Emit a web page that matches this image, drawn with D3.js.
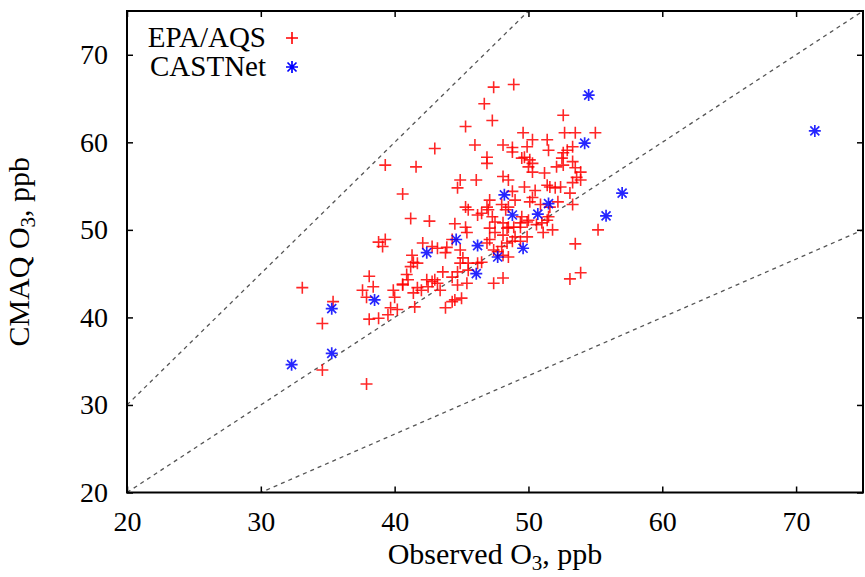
<!DOCTYPE html>
<html lang="en">
<head>
<meta charset="UTF-8">
<title>CMAQ vs Observed O3</title>
<script src="https://d3js.org/d3.v7.min.js"></script>
<style>
  body { margin: 0; background: #fff; }
  svg text { font-family: "Liberation Serif", "Times New Roman", serif; fill: #000; }
</style>
</head>
<body>
<div id="chart"></div>
<script>
// [observed, CMAQ] ozone in ppb
const epaAqs = [
  [47.4,66.3],[48.9,66.6],[46.7,64.4],[47.3,62.5],[45.3,61.8],[52.6,63.1],[49.6,61.1],[50.3,60.3],
  [51.4,60.3],[52.7,61.1],[53.5,61.1],[55.0,61.1],[43.0,59.3],[46.0,59.7],[48.1,59.7],[48.8,59.4],
  [48.8,58.9],[49.9,59.5],[49.7,58.3],[51.5,59.1],[52.6,58.8],[52.9,59.1],[53.3,59.5],[39.3,57.4],
  [41.6,57.2],[46.9,58.3],[46.9,57.6],[49.5,58.2],[50.1,58.0],[50.3,57.6],[50.0,57.2],[52.5,58.2],
  [52.6,57.4],[53.3,57.8],[53.5,57.1],[53.9,56.6],[52.1,57.2],[50.3,56.6],[51.2,56.5],[44.9,55.7],
  [44.7,54.8],[46.1,55.7],[48.1,56.1],[48.5,55.7],[49.7,54.9],[50.5,54.5],[51.4,55.1],[51.6,54.9],
  [52.0,54.8],[52.4,54.9],[53.3,55.4],[53.6,56.0],[53.9,55.7],[53.1,54.2],[40.6,54.1],[48.8,54.4],
  [49.0,53.4],[50.3,53.7],[50.1,53.2],[47.1,53.4],[46.9,52.6],[45.3,52.6],[45.5,52.3],[46.2,51.7],
  [46.5,51.9],[47.0,52.3],[47.3,51.5],[47.1,50.2],[47.5,50.9],[48.0,52.9],[48.5,52.6],[48.3,52.3],
  [49.5,51.5],[49.9,50.9],[49.4,50.3],[48.9,50.3],[48.1,50.8],[48.4,50.2],[51.0,50.8],[51.1,49.7],
  [51.8,50.0],[51.5,51.5],[50.9,52.9],[52.2,53.2],[51.6,52.6],[53.3,52.9],[55.2,50.0],[53.5,48.4],
  [53.1,44.4],[53.9,45.1],[41.2,51.3],[42.6,51.0],[44.5,50.7],[45.3,50.3],[45.4,49.7],[47.5,49.7],
  [48.1,49.4],[48.5,50.3],[49.0,49.2],[39.3,48.9],[39.1,48.1],[42.1,48.5],[42.8,48.1],[43.2,47.9],
  [43.8,47.4],[44.9,47.7],[45.1,46.8],[44.9,46.2],[45.5,46.2],[46.9,48.5],[47.1,48.9],[47.4,47.7],
  [48.0,48.1],[48.4,48.5],[48.8,48.7],[49.4,48.7],[49.9,49.2],[49.4,50.8],[50.0,51.1],[50.6,50.6],
  [51.4,51.1],[41.3,47.1],[41.4,46.3],[41.7,46.2],[40.9,44.9],[41.0,44.3],[40.6,43.7],[39.9,43.1],
  [40.0,42.3],[39.7,41.1],[40.2,40.9],[39.5,40.3],[42.4,44.3],[42.8,44.1],[43.0,44.3],[43.2,43.9],
  [43.4,43.1],[42.5,43.5],[42.0,43.1],[41.7,43.4],[41.4,42.8],[44.3,44.6],[44.7,43.7],[45.4,43.9],
  [44.7,45.2],[43.6,45.2],[44.5,42.0],[45.0,42.2],[44.3,41.8],[43.8,41.1],[47.4,43.9],[48.1,44.5],
  [46.2,46.2],[46.5,46.3],[45.5,45.4],[47.7,47.5],[48.1,47.1],[48.5,46.9],[44.3,48.9],[43.9,48.0],
  [33.1,43.4],[35.4,41.8],[34.6,39.3],[34.6,34.0],[37.9,32.4],[38.8,48.6],[41.2,45.8],[38.1,44.7],
  [37.6,43.1],[38.4,43.5],[37.9,42.3],[40.6,43.8],[38.1,39.8],[38.8,39.9],[41.5,41.2]
];

const castnet = [
  [32.3,34.6],[35.3,35.9],[35.3,41.0],[38.5,42.0],[42.4,47.4],[44.6,48.9],[46.1,45.0],[46.2,48.2],
  [47.7,46.9],[48.2,54.0],[48.8,51.7],[49.6,47.9],[50.7,51.8],[51.5,53.0],[54.2,59.9],[54.5,65.4],
  [55.8,51.6],[57.0,54.2],[71.4,61.3]
];

const xTicks = [20, 30, 40, 50, 60, 70];
const yTicks = [20, 30, 40, 50, 60, 70];
// reference lines y = k * x  (1.5:1, 1:1, 1:1.5)
const ratioLines = [1.5, 1, 1 / 1.5];
const legendNames = ["EPA/AQS", "CASTNet"];

const W = 865, H = 577;
const margin = { top: 11, right: 2, bottom: 84.5, left: 127 };
const width = W - margin.left - margin.right;
const height = H - margin.top - margin.bottom;
const serif = '"Liberation Serif", "Times New Roman", serif';

const svg = d3.select("#chart").append("svg")
  .attr("width", W).attr("height", H)
  .style("font-family", serif);

const g = svg.append("g")
  .attr("transform", `translate(${margin.left},${margin.top})`);

const x = d3.scaleLinear().domain([20, 75]).range([0, width]);
const y = d3.scaleLinear().domain([20, 75]).range([height, 0]);

g.append("clipPath").attr("id", "clip")
  .append("rect").attr("width", width).attr("height", height);

// dashed ratio lines
const line = d3.line().x(d => x(d[0])).y(d => y(d[1]));
g.append("g").attr("clip-path", "url(#clip)")
  .selectAll("path")
  .data(ratioLines)
  .join("path")
  .attr("d", k => line([[20, 20 * k], [75, 75 * k]]))
  .attr("fill", "none")
  .attr("stroke", "#555")
  .attr("stroke-width", 1.3)
  .attr("stroke-dasharray", "4,4");

// axes, ticks pointing inwards on all four sides
function styleAxis(sel) {
  sel.attr("font-family", null).attr("font-size", null);
  sel.select(".domain").remove();
  sel.selectAll(".tick line").attr("stroke", "#000").attr("stroke-width", 1.5);
  sel.selectAll(".tick text")
    .style("font-family", serif)
    .style("font-size", "28px");
}

g.append("g").attr("transform", `translate(0,${height})`)
  .call(d3.axisBottom(x).tickValues(xTicks).tickSize(-6).tickPadding(19))
  .call(styleAxis);
g.append("g")
  .call(d3.axisTop(x).tickValues(xTicks).tickSize(-6).tickFormat(""))
  .call(styleAxis);
g.append("g")
  .call(d3.axisLeft(y).tickValues(yTicks).tickSize(-6).tickPadding(19))
  .call(styleAxis);
g.append("g").attr("transform", `translate(${width},0)`)
  .call(d3.axisRight(y).tickValues(yTicks).tickSize(-6).tickFormat(""))
  .call(styleAxis);

g.append("rect")
  .attr("width", width).attr("height", height)
  .attr("fill", "none").attr("stroke", "#000").attr("stroke-width", 2);

// markers
const plusPath = "M-6,0H6M0,-6V6";
const starPath = "M-6,0H6M0,-6V6M-4.5,-4.5L4.5,4.5M-4.5,4.5L4.5,-4.5";

g.append("g").attr("clip-path", "url(#clip)")
  .selectAll("path")
  .data(epaAqs)
  .join("path")
  .attr("d", plusPath)
  .attr("transform", d => `translate(${x(d[0])},${y(d[1])})`)
  .attr("fill", "none")
  .attr("stroke", "#ff0000")
  .attr("stroke-opacity", 0.85)
  .attr("stroke-width", 1.6);

g.append("g").attr("clip-path", "url(#clip)")
  .selectAll("path")
  .data(castnet)
  .join("path")
  .attr("d", starPath)
  .attr("transform", d => `translate(${x(d[0])},${y(d[1])})`)
  .attr("fill", "none")
  .attr("stroke", "#0000ff")
  .attr("stroke-opacity", 0.85)
  .attr("stroke-width", 1.7);

// legend
const legend = svg.append("g");
legendNames.forEach((name, i) => {
  const yy = 38 + i * 29;
  legend.append("text")
    .attr("x", 266).attr("y", yy + 9)
    .attr("text-anchor", "end")
    .style("font-size", "29px")
    .text(name);
  legend.append("path")
    .attr("d", i === 0 ? plusPath : starPath)
    .attr("transform", `translate(292,${yy})`)
    .attr("fill", "none")
    .attr("stroke", i === 0 ? "#ff0000" : "#0000ff")
    .attr("stroke-width", i === 0 ? 1.6 : 1.7);
});

// axis titles
const xt = svg.append("text")
  .attr("x", margin.left + width / 2).attr("y", 564)
  .attr("text-anchor", "middle")
  .style("font-size", "30px");
xt.append("tspan").text("Observed O");
xt.append("tspan").attr("dy", 6).style("font-size", "21px").text("3");
xt.append("tspan").attr("dy", -6).text(", ppb");

const yt = svg.append("text")
  .attr("transform", `translate(29,${margin.top + height / 2}) rotate(-90)`)
  .attr("text-anchor", "middle")
  .style("font-size", "30px");
yt.append("tspan").text("CMAQ O");
yt.append("tspan").attr("dy", 6).style("font-size", "21px").text("3");
yt.append("tspan").attr("dy", -6).text(", ppb");
</script>
</body>
</html>
